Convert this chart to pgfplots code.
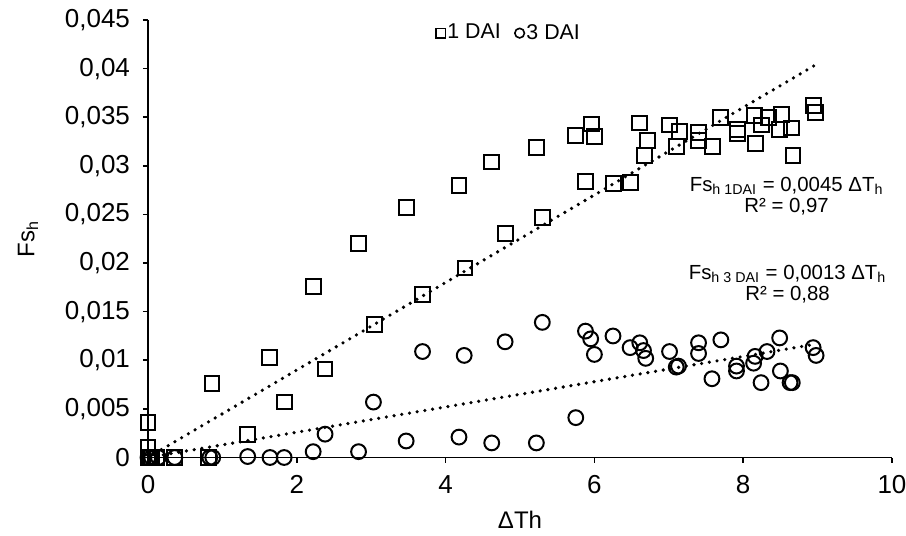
\documentclass[border=0pt]{standalone}
\usepackage{fontspec}
\setmainfont{Liberation Sans}
\usepackage{pgfplots}
\pgfplotsset{compat=1.18}
\newcommand{\chartfont}{\fontsize{10.7pt}{12.5pt}\selectfont}
\newcommand{\tickfont}{\fontsize{13pt}{15pt}\selectfont}
\newcommand{\notefont}{\fontsize{10.2pt}{10.5pt}\selectfont}
\newcommand{\labelfont}{\fontsize{12pt}{14pt}\selectfont}

\begin{document}
\begin{tikzpicture}[font=\chartfont]
\begin{axis}[
  scale only axis, width=372pt, height=218.75pt,
  xmin=0, xmax=10, ymin=0, ymax=0.045,
  xtick={0,2,...,10}, ytick={0,0.005,...,0.045},
  scaled y ticks=false,
  /pgf/number format/.cd, use comma, fixed, precision=3, assume math mode=true,
  /pgfplots/.cd,
  tick label style={font=\tickfont},
  axis lines=left, axis line style={-, line width=0.8pt},
  tick align=outside, major tick length=2.5pt,
  tick style={line width=0.8pt, black},
  yticklabel style={xshift=-3pt},
  xticklabel style={yshift=-3pt},
  clip=false,
  legend columns=2,
  legend style={draw=none, fill=none, at={(0.485,0.97)}, anchor=center, font=\chartfont,
    /tikz/every even column/.append style={column sep=6pt},
    nodes={inner sep=1pt}},
  legend image code/.code={\draw[#1, mark size=2.4pt, line width=0.8pt] plot coordinates {(0.05cm,0cm)};},
]
\addplot[only marks, mark=square, mark size=3.7pt, line width=1pt] coordinates {
(0,0.0036) (0,0.0010) (0,0) (0.02,0) (0.05,0) (0.12,0) (0.36,0) (0.81,0)
(0.86,0.0076) (1.34,0.0024) (1.83,0.0057) (1.63,0.0103) (2.22,0.0176)
(2.38,0.0091) (2.83,0.0220) (3.04,0.0137) (3.47,0.0257) (3.69,0.0168)
(4.18,0.0280) (4.26,0.0195) (4.62,0.0304) (4.80,0.0230) (5.22,0.0319)
(5.30,0.0247) (5.75,0.0331) (5.88,0.0284) (5.96,0.0343) (6.00,0.0330)
(6.26,0.0282) (6.48,0.0283) (6.61,0.0344) (6.67,0.0311) (6.71,0.0326)
(7.01,0.0342) (7.10,0.0320) (7.14,0.0335) (7.40,0.0334) (7.40,0.0326)
(7.59,0.0320) (7.70,0.0350) (7.92,0.0337) (7.92,0.0333) (8.15,0.0352)
(8.16,0.0323) (8.25,0.0342) (8.34,0.0350) (8.49,0.0337) (8.52,0.0353)
(8.65,0.0339) (8.67,0.0311) (8.94,0.0362) (8.97,0.0355)
};
\addlegendentry{1 DAI}
\addplot[only marks, mark=o, mark size=3.7pt, line width=1pt] coordinates {
(0,0) (0.05,0) (0.14,0) (0.36,0) (0.83,0) (0.87,0) (1.34,0.0001) (1.64,0)
(1.83,0) (2.22,0.0006) (2.38,0.0024) (2.83,0.0006) (3.03,0.0057) (3.47,0.0017)
(3.69,0.0109) (4.18,0.0021) (4.25,0.0105) (4.62,0.0015) (4.80,0.0119)
(5.22,0.0015) (5.30,0.0139) (5.75,0.0041) (5.88,0.0130) (5.95,0.0122)
(6.00,0.0106) (6.25,0.0125) (6.48,0.0113) (6.61,0.0118) (6.66,0.0110)
(6.69,0.0102) (7.01,0.0109) (7.10,0.0093) (7.13,0.0094) (7.40,0.0118)
(7.40,0.0107) (7.58,0.0081) (7.70,0.0121) (7.91,0.0094) (7.91,0.0089)
(8.14,0.0097) (8.16,0.0104) (8.24,0.0077) (8.32,0.0109) (8.49,0.0123)
(8.50,0.0089) (8.63,0.0077) (8.66,0.0077) (8.94,0.0113) (8.98,0.0105)
};
\addlegendentry{3 DAI}
% trend lines
\addplot[black, line width=1.8pt, line cap=round, dash pattern=on 0pt off 3.9pt, forget plot]
  coordinates {(0,0) (8.97,0.04037)};
\addplot[black, line width=1.8pt, line cap=round, dash pattern=on 0pt off 3.9pt, forget plot]
  coordinates {(0,0) (8.98,0.01167)};

\node[align=center, anchor=east, font=\notefont]
  at (axis cs:9.98,0.0269) {Fs\textsubscript{h 1DAI} = 0,0045 ΔT\textsubscript{h}\\R² = 0,97};
\node[align=center, anchor=east, font=\notefont]
  at (axis cs:10.02,0.01785) {Fs\textsubscript{h 3 DAI} = 0,0013 ΔT\textsubscript{h}\\R² = 0,88};

\node[font=\labelfont] at ([yshift=-31pt]rel axis cs:0.5,0) {ΔTh};
\node[rotate=90, font=\labelfont] at ([xshift=-60pt]rel axis cs:0,0.5) {Fs\textsubscript{h}};
\coordinate (o) at (rel axis cs:0,0);
\end{axis}
\pgfresetboundingbox
\path ([shift={(-74pt,-39.25pt)}]o) rectangle ([shift={(379pt,228.75pt)}]o);
\end{tikzpicture}
\end{document}
